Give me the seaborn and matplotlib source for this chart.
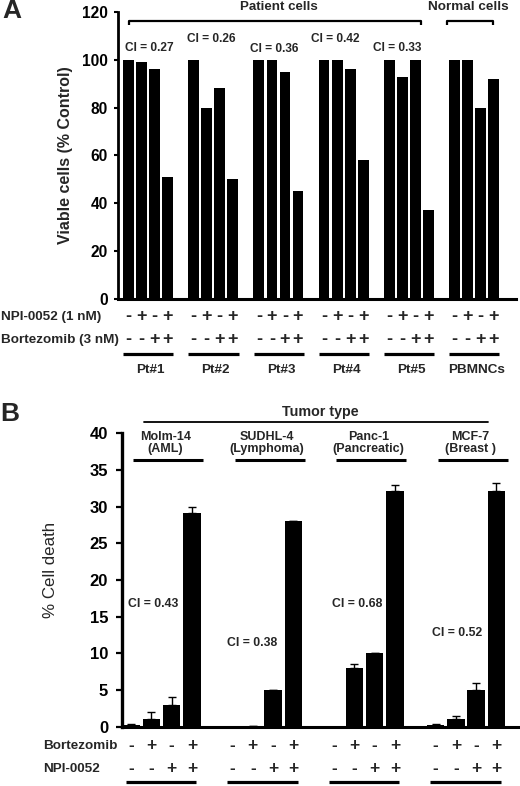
import numpy as np
import pandas as pd
import matplotlib
matplotlib.use("Agg")
import matplotlib.pyplot as plt
import matplotlib.transforms as mtransforms
import seaborn as sns

# ---------------- Panel A data ----------------
a_groups = ["Pt#1", "Pt#2", "Pt#3", "Pt#4", "Pt#5", "PBMNCs"]
a_pt1 = [100, 99, 96, 51]
a_pt2 = [100, 80, 88, 50]
a_pt3 = [100, 100, 95, 45]
a_pt4 = [100, 100, 96, 58]
a_pt5 = [100, 93, 100, 37]
a_pbmnc = [100, 100, 80, 92]
a_ci = ["CI = 0.27", "CI = 0.26", "CI = 0.36", "CI = 0.42", "CI = 0.33"]
a_npi_signs = ["-", "+", "-", "+"]
a_bort_signs = ["-", "-", "+", "+"]
a_yticks = [0, 20, 40, 60, 80, 100, 120]

# ---------------- Panel B data ----------------
b_groups = ["Molm-14\n(AML)", "SUDHL-4\n(Lymphoma)", "Panc-1\n(Pancreatic)", "MCF-7\n(Breast )"]
b_molm = [0.2, 1.0, 3.0, 29.1]
b_molm_err = [0.15, 1.0, 1.0, 0.8]
b_sudhl = [0.0, 0.1, 5.0, 28.0]
b_sudhl_err = [0.0, 0.0, 0.0, 0.05]
b_panc = [0.0, 8.0, 10.0, 32.2]
b_panc_err = [0.0, 0.5, 0.05, 0.7]
b_mcf = [0.2, 1.0, 5.0, 32.2]
b_mcf_err = [0.15, 0.5, 1.0, 1.0]
b_ci = ["CI = 0.43", "CI = 0.38", "CI = 0.68", "CI = 0.52"]
b_bort_signs = ["-", "+", "-", "+"]
b_npi_signs = ["-", "-", "+", "+"]
b_yticks = [0, 5, 10, 15, 20, 25, 30, 35, 40]

STRIDE = 5  # slots per group (4 bars + 1 gap)

sns.set_theme(style="white")
plt.rcParams["font.family"] = ["Liberation Sans", "DejaVu Sans"]
plt.rcParams["font.weight"] = "bold"

fig = plt.figure(figsize=(5.2, 7.86), dpi=100)
W, H = 520.0, 786.0

def fig_rect(x0, y_top, x1, y_bot):
    return [x0 / W, 1 - y_bot / H, (x1 - x0) / W, (y_bot - y_top) / H]

axA = fig.add_axes(fig_rect(118, 12, 516, 298.7))
axB = fig.add_axes(fig_rect(121.7, 433.3, 518, 726.7))

# ---------------- Panel A ----------------
a_vals = [a_pt1, a_pt2, a_pt3, a_pt4, a_pt5, a_pbmnc]
rows = []
for g, vals in enumerate(a_vals):
    for i, v in enumerate(vals):
        rows.append({"group": a_groups[g], "pos": g * STRIDE + i, "value": v})
dfA = pd.DataFrame(rows)
sns.barplot(data=dfA, x="pos", y="value", native_scale=True, color="black",
            saturation=1, width=0.83, errorbar=None, linewidth=0, ax=axA)
axA.set_xlim(-0.805, 29.72)
axA.set_ylim(0, 120)
axA.set_yticks(a_yticks)
axA.set_xticks([])
axA.set_xlabel("")
for s in ["top", "right"]:
    axA.spines[s].set_visible(False)
axA.spines["left"].set_linewidth(2)
axA.spines["bottom"].set_linewidth(2.2)
axA.spines["left"].set_color("black")
axA.spines["bottom"].set_color("black")
axA.tick_params(axis="y", direction="out", length=3, width=1.5, labelsize=11.2,
                pad=4.2, left=True, colors="black")
axA.set_ylabel("Viable cells (% Control)", fontsize=11.5, fontweight="bold")
axA.yaxis.set_label_coords((73 - 118) / 398.0, 0.5)

ci_a_pos = [(1.57, 104.8), (6.33, 108.5), (11.16, 104.4), (15.9, 108.5), (20.6, 104.8)]
for txt, (x, y) in zip(a_ci, ci_a_pos):
    axA.text(x, y, txt, ha="center", va="center", fontsize=8.6, fontweight="bold")

# brackets
axA.plot([0.04, 0.04, 22.4, 22.4], [114.6, 116.2, 116.2, 114.6], color="black",
         lw=1.6, clip_on=False, solid_capstyle="butt")
axA.plot([24.4, 24.4, 27.95, 27.95], [114.6, 116.2, 116.2, 114.6], color="black",
         lw=1.6, clip_on=False, solid_capstyle="butt")
axA.text(11.54, 122.3, "Patient cells", ha="center", va="center", fontsize=9.6,
         fontweight="bold", clip_on=False)
axA.text(26.1, 122.3, "Normal cells", ha="center", va="center", fontsize=9.7,
         fontweight="bold", clip_on=False)

transA = mtransforms.blended_transform_factory(axA.transData, axA.transAxes)
for g, name in enumerate(a_groups):
    for i in range(4):
        axA.text(g * STRIDE + i, -0.0628, a_npi_signs[i], transform=transA, ha="center",
                 va="center", fontsize=13, fontweight="bold", clip_on=False)
        axA.text(g * STRIDE + i, -0.144, a_bort_signs[i], transform=transA, ha="center",
                 va="center", fontsize=13, fontweight="bold", clip_on=False)
    axA.plot([g * STRIDE - 0.4, g * STRIDE + 3.45], [-0.193, -0.193], transform=transA,
             color="black", lw=2.3, clip_on=False, solid_capstyle="butt")
    axA.text(g * STRIDE + 1.7, -0.249, name, transform=transA, ha="center", va="center",
             fontsize=9.7, fontweight="bold", clip_on=False)

fig.text(1 / W, 1 - 316.7 / H, "NPI-0052 (1 nM)", ha="left", va="center",
         fontsize=9.7, fontweight="bold")
fig.text(1 / W, 1 - 340 / H, "Bortezomib (3 nM)", ha="left", va="center",
         fontsize=9.7, fontweight="bold")
fig.text(2 / W, 1 - 11 / H, "A", ha="left", va="center", fontsize=19, fontweight="bold")

# ---------------- Panel B ----------------
b_vals = [b_molm, b_sudhl, b_panc, b_mcf]
b_errs = [b_molm_err, b_sudhl_err, b_panc_err, b_mcf_err]
rows = []
for g, (vals, errs) in enumerate(zip(b_vals, b_errs)):
    for i, (v, e) in enumerate(zip(vals, errs)):
        rows.append({"group": g, "pos": g * STRIDE + i, "value": v, "err": e})
dfB = pd.DataFrame(rows)
sns.barplot(data=dfB, x="pos", y="value", native_scale=True, color="black",
            saturation=1, width=0.86, errorbar=None, linewidth=0, ax=axB)
axB.errorbar(dfB["pos"], dfB["value"], yerr=[np.zeros(len(dfB)), dfB["err"]],
             fmt="none", ecolor="black", elinewidth=1.0, capsize=3.2, capthick=1.0)
axB.set_xlim(-0.46, 19.06)
axB.set_ylim(0, 40)
axB.set_yticks(b_yticks)
axB.set_xticks([])
axB.set_xlabel("")
for s in ["top", "right"]:
    axB.spines[s].set_visible(False)
axB.spines["left"].set_linewidth(2.4)
axB.spines["bottom"].set_linewidth(2.2)
axB.spines["left"].set_color("black")
axB.spines["bottom"].set_color("black")
axB.tick_params(axis="y", direction="out", length=4.3, width=1.6, labelsize=12,
                pad=5.5, left=True, colors="black")
axB.set_ylabel("% Cell death", fontsize=12.2, fontweight="normal")
axB.yaxis.set_label_coords((58 - 121.7) / 396.3, (726.7 - 570) / 293.4)

ci_b_pos = [(1.08, 16.7), (5.96, 11.45), (11.13, 16.7), (16.06, 12.8)]
for txt, (x, y) in zip(b_ci, ci_b_pos):
    axB.text(x, y, txt, ha="center", va="center", fontsize=8.8, fontweight="bold")

axB.text(9.3, 42.9, "Tumor type", ha="center", va="center", fontsize=10.3,
         fontweight="bold", clip_on=False)
axB.plot([0.64, 17.6], [41.6, 41.6], color="black", lw=1.3, clip_on=False)
for g, name in enumerate(b_groups):
    axB.text(g * STRIDE + 1.7, 38.7, name, ha="center", va="center", fontsize=9,
             fontweight="bold", linespacing=0.95, clip_on=False)
    axB.plot([g * STRIDE + 0.1, g * STRIDE + 3.55], [36.4, 36.4], color="black",
             lw=2.2, clip_on=False, solid_capstyle="butt")

transB = mtransforms.blended_transform_factory(axB.transData, axB.transAxes)
for g in range(len(b_groups)):
    for i in range(4):
        axB.text(g * STRIDE + i, -0.0648, b_bort_signs[i], transform=transB, ha="center",
                 va="center", fontsize=12.5, fontweight="bold", clip_on=False)
        axB.text(g * STRIDE + i, -0.144, b_npi_signs[i], transform=transB, ha="center",
                 va="center", fontsize=12.5, fontweight="bold", clip_on=False)
    axB.plot([g * STRIDE - 0.25, g * STRIDE + 3.2], [-0.1875, -0.1875], transform=transB,
             color="black", lw=2.3, clip_on=False, solid_capstyle="butt")

fig.text(43 / W, 1 - 745.7 / H, "Bortezomib", ha="left", va="center",
         fontsize=9.7, fontweight="bold")
fig.text(43 / W, 1 - 769 / H, "NPI-0052", ha="left", va="center",
         fontsize=9.7, fontweight="bold")
fig.text(0 / W, 1 - 414 / H, "B", ha="left", va="center", fontsize=19, fontweight="bold")

fig.savefig("out.png", dpi=100, facecolor="white")
